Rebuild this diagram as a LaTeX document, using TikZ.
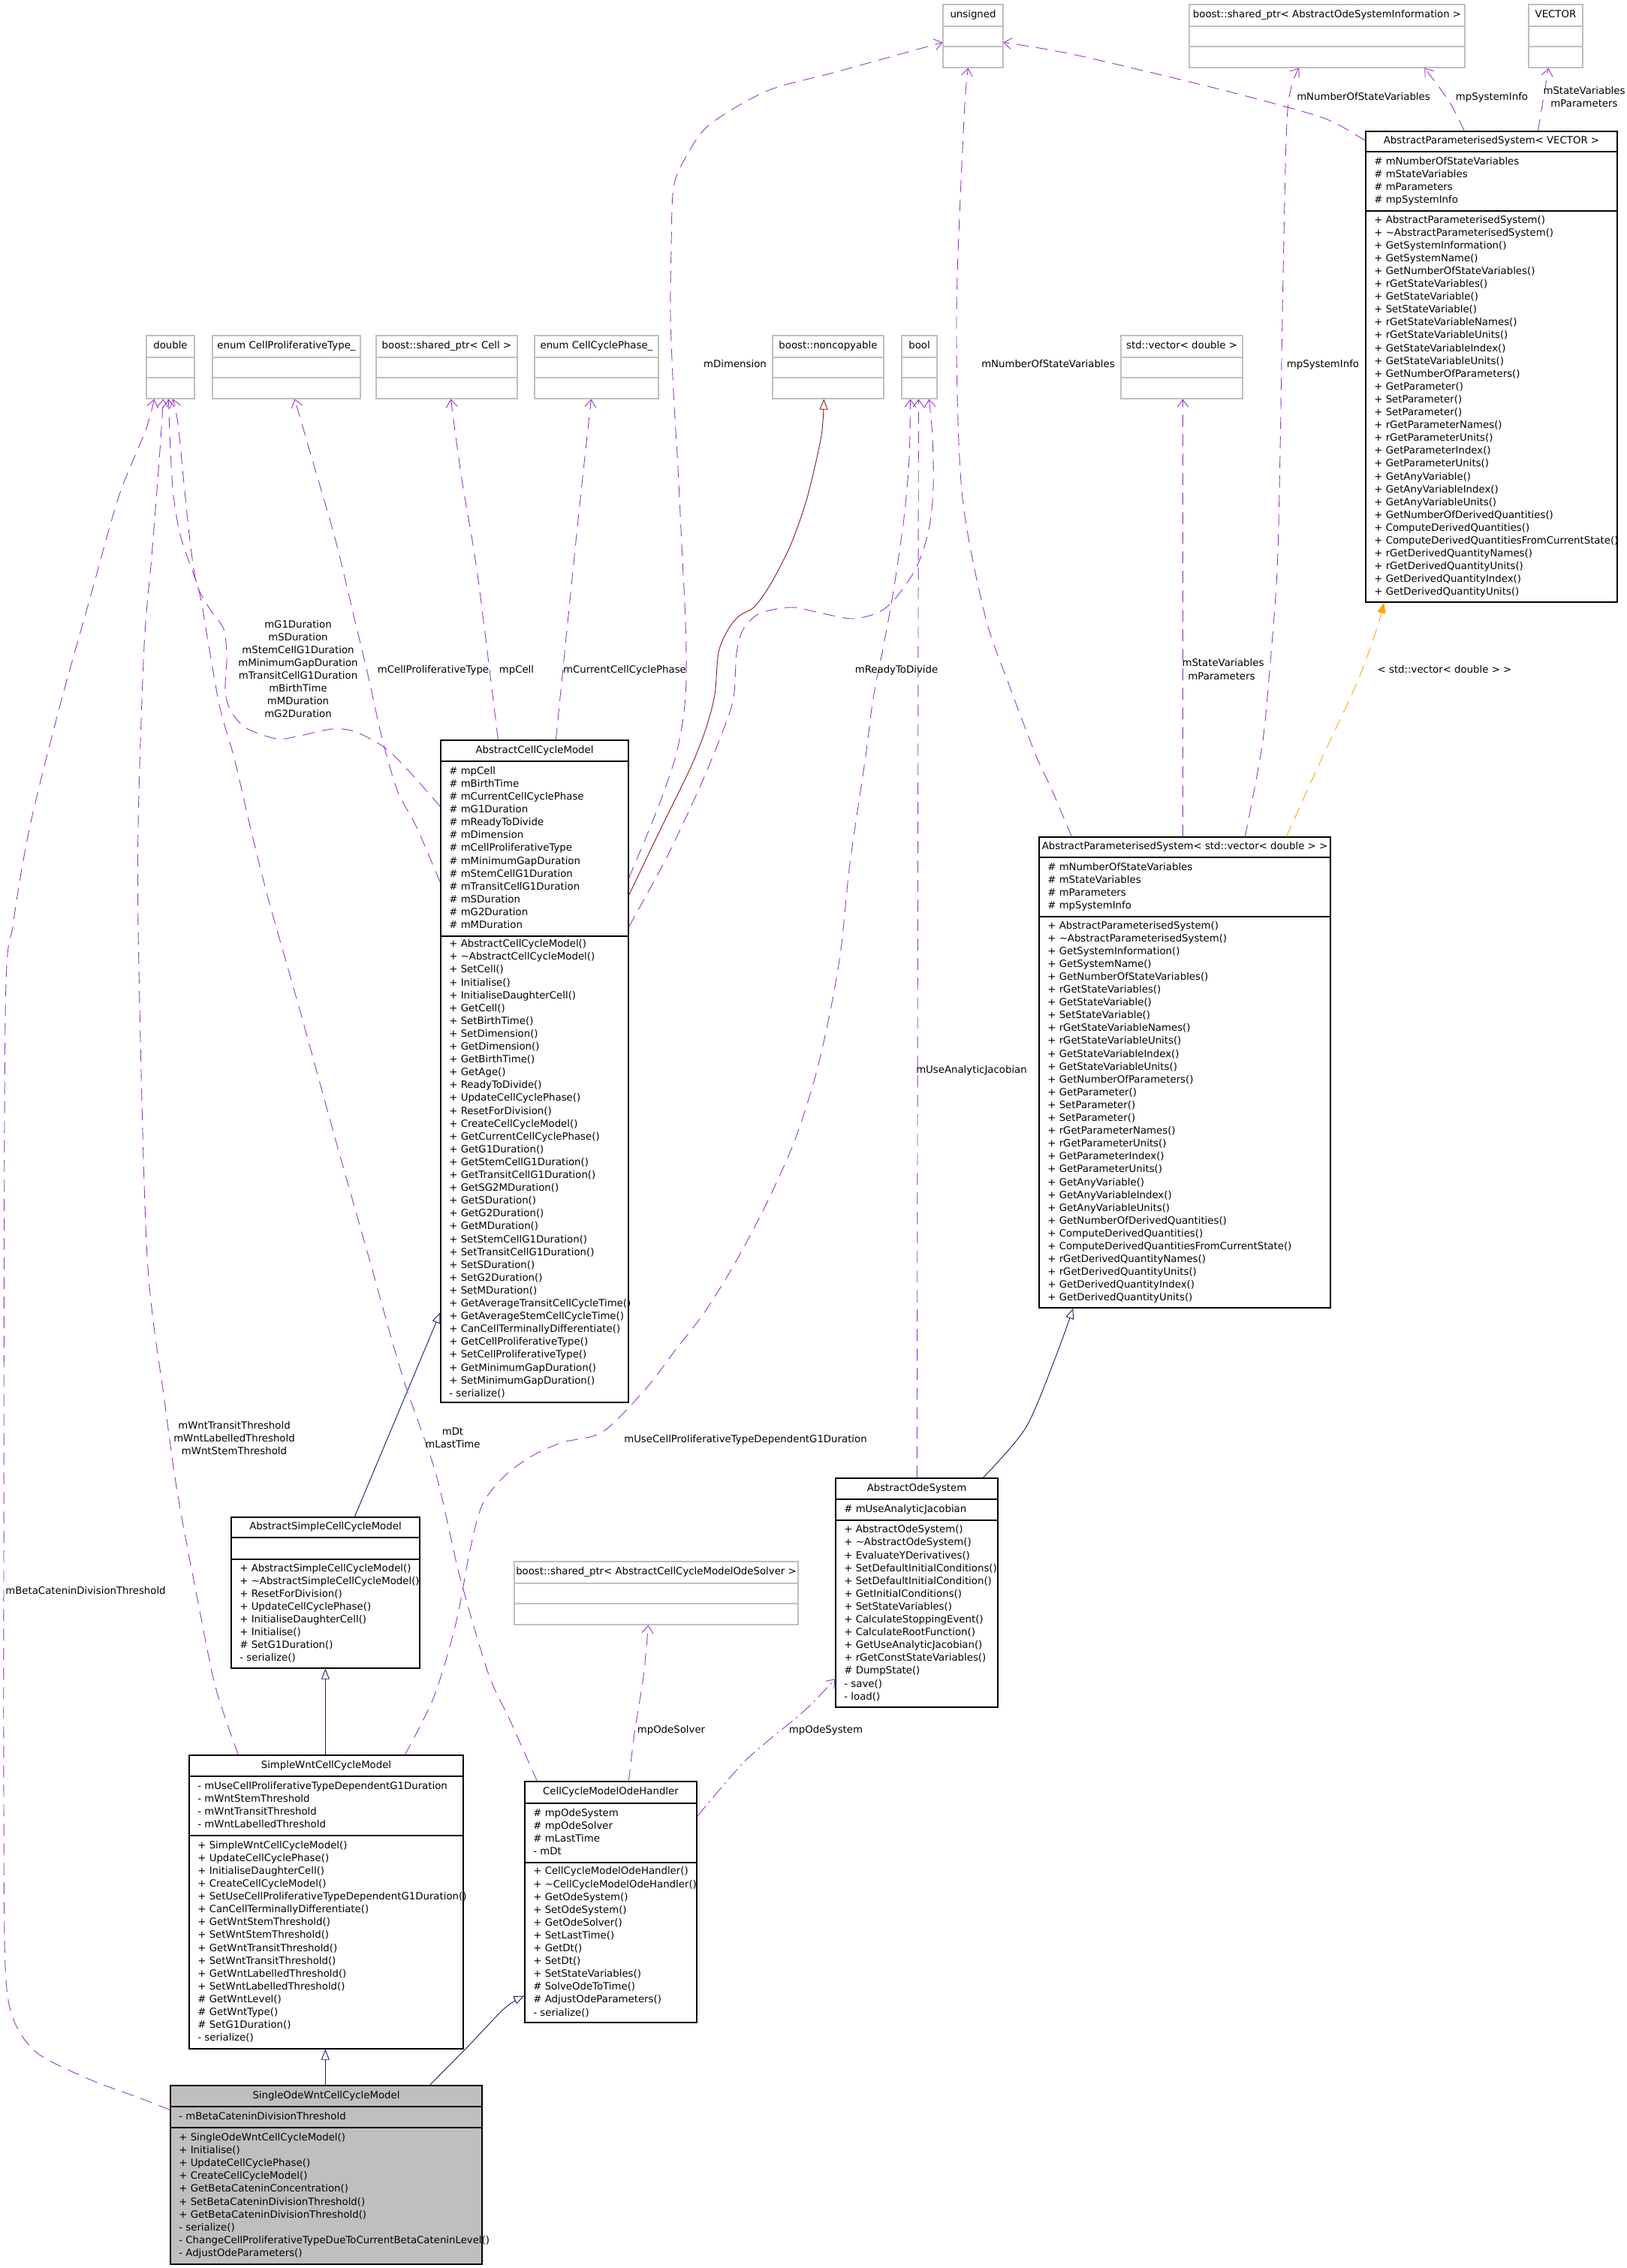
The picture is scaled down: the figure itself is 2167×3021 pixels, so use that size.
\documentclass[tikz,border=0pt]{standalone}
\usepackage{fontspec}
\setmainfont{DejaVu Sans}
\usetikzlibrary{arrows.meta,fit,calc}
\definecolor{upurple}{HTML}{9A32CD}
\definecolor{unavy}{HTML}{191970}
\definecolor{ured}{HTML}{8B1A1A}
\definecolor{uorange}{HTML}{FFA500}
\definecolor{ugray}{HTML}{BFBFBF}
\newcommand\umlfont{\fontsize{6.65pt}{8pt}\selectfont}
\tikzset{
  txt/.style={inner sep=0pt, font=\umlfont, text height=4.9pt, text depth=1.45pt},
  clsbox/.style={draw=black, line width=0.65pt, fill=white, inner sep=0pt},
  sowbox/.style={draw=black, line width=0.65pt, fill=ugray, inner sep=0pt},
  graybox/.style={draw=ugray, line width=0.6pt, fill=white, inner sep=0pt},
  gline/.style={draw=ugray, line width=0.6pt},
  cline/.style={draw=black, line width=0.65pt},
  usearrow/.style={draw=upurple, line width=0.45pt, dash pattern=on 8pt off 5pt, -{Straight Barb[length=5pt,width=7.5pt]}},
  usedd/.style={usearrow, dash pattern=on 9pt off 3pt on 1.2pt off 3pt},
  inherit/.style={draw=unavy, line width=0.45pt, -{Triangle[open,length=7pt,width=5.5pt,fill=white]}},
  inheritred/.style={inherit, draw=ured},
  tmpl/.style={draw=uorange, line width=0.45pt, dash pattern=on 8pt off 5pt, -{Triangle[length=7pt,width=5.5pt,fill=uorange]}},
}
% class box: name, x1, y1, x2, y2, sep1, sep2, title, style
\newcommand\umlclass[9]{%
  \coordinate (#1-nw) at (#2,#3);
  \coordinate (#1-se) at (#4,#5);
  \node[#9, fit=(#1-nw)(#1-se)] (#1) {};
  \draw[cline] (#2,#6) -- (#4,#6) (#2,#7) -- (#4,#7);
  \node[txt] (#1-title) at ({(#2+#4)/2},{(#3+#6)/2}) {#8};
}
% lines of text: prefix, x1, ytop, ybot, list
\newcommand\umllines[5]{%
  \foreach \myl [count=\myi] in {#5} {\xdef\mycount{\myi}}
  \foreach \myl [count=\myi] in {#5} {
    \pgfmathsetmacro\myy{(#3+#4)/2+(\myi-(\mycount+1)/2)*17.1}
    \node[txt, anchor=west] (#1-\myi) at (#2+11,\myy) {\myl};
  }
}
% gray external box: name, x1, y1, x2, title
\newcommand\gbox[5]{%
  \coordinate (#1-nw) at (#2,#3);
  \coordinate (#1-se) at (#4,#3+84);
  \node[graybox, fit=(#1-nw)(#1-se)] (#1) {};
  \draw[gline] (#2,#3+29) -- (#4,#3+29) (#2,#3+56) -- (#4,#3+56);
  \node[txt] (#1-title) at ({(#2+#4)/2},#3+14.5) {#5};
}
\begin{document}
\begin{tikzpicture}[x=0.5pt,y=-0.5pt]
\fill[white] (0,0) rectangle (2167,3021);
\useasboundingbox (0,0) rectangle (2167,3021);

% ---------- external types ----------
\gbox{unsigned}{1256}{6}{1336}{unsigned}
\gbox{aosi}{1584}{6}{1951}{boost::shared\_ptr< AbstractOdeSystemInformation >}
\gbox{vec}{2036}{6}{2108}{VECTOR}
\gbox{dbl}{195}{447}{259}{double}
\gbox{cpt}{283}{447}{480}{enum CellProliferativeType\_}
\gbox{spcell}{501}{447}{689}{boost::shared\_ptr< Cell >}
\gbox{ccp}{712}{447}{877}{enum CellCyclePhase\_}
\gbox{nonc}{1029}{447}{1177}{boost::noncopyable}
\gbox{bool}{1201}{447}{1248}{bool}
\gbox{stdvec}{1493}{447}{1655}{std::vector< double >}
\gbox{solver}{685}{2080}{1063}{boost::shared\_ptr< AbstractCellCycleModelOdeSolver >}

% ---------- AbstractParameterisedSystem< VECTOR > ----------
\umlclass{apsv}{1819}{175}{2154}{802}{202}{281}{AbstractParameterisedSystem< VECTOR >}{clsbox}
\umllines{apsv-a}{1819}{202}{281}{\# mNumberOfStateVariables, \# mStateVariables, \# mParameters, \# mpSystemInfo}
\umllines{apsv-m}{1819}{281}{802}{+ AbstractParameterisedSystem(), + \textasciitilde AbstractParameterisedSystem(), + GetSystemInformation(), + GetSystemName(), + GetNumberOfStateVariables(), + rGetStateVariables(), + GetStateVariable(), + SetStateVariable(), + rGetStateVariableNames(), + rGetStateVariableUnits(), + GetStateVariableIndex(), + GetStateVariableUnits(), + GetNumberOfParameters(), + GetParameter(), + SetParameter(), + SetParameter(), + rGetParameterNames(), + rGetParameterUnits(), + GetParameterIndex(), + GetParameterUnits(), + GetAnyVariable(), + GetAnyVariableIndex(), + GetAnyVariableUnits(), + GetNumberOfDerivedQuantities(), + ComputeDerivedQuantities(), + ComputeDerivedQuantitiesFromCurrentState(), + rGetDerivedQuantityNames(), + rGetDerivedQuantityUnits(), + GetDerivedQuantityIndex(), + GetDerivedQuantityUnits()}

% ---------- AbstractParameterisedSystem< std::vector< double > > ----------
\umlclass{apsd}{1384}{1115}{1772}{1742}{1142}{1221}{AbstractParameterisedSystem< std::vector< double > >}{clsbox}
\umllines{apsd-a}{1384}{1142}{1221}{\# mNumberOfStateVariables, \# mStateVariables, \# mParameters, \# mpSystemInfo}
\umllines{apsd-m}{1384}{1221}{1742}{+ AbstractParameterisedSystem(), + \textasciitilde AbstractParameterisedSystem(), + GetSystemInformation(), + GetSystemName(), + GetNumberOfStateVariables(), + rGetStateVariables(), + GetStateVariable(), + SetStateVariable(), + rGetStateVariableNames(), + rGetStateVariableUnits(), + GetStateVariableIndex(), + GetStateVariableUnits(), + GetNumberOfParameters(), + GetParameter(), + SetParameter(), + SetParameter(), + rGetParameterNames(), + rGetParameterUnits(), + GetParameterIndex(), + GetParameterUnits(), + GetAnyVariable(), + GetAnyVariableIndex(), + GetAnyVariableUnits(), + GetNumberOfDerivedQuantities(), + ComputeDerivedQuantities(), + ComputeDerivedQuantitiesFromCurrentState(), + rGetDerivedQuantityNames(), + rGetDerivedQuantityUnits(), + GetDerivedQuantityIndex(), + GetDerivedQuantityUnits()}

% ---------- AbstractCellCycleModel ----------
\umlclass{acm}{587}{986}{837}{1868}{1014}{1247}{AbstractCellCycleModel}{clsbox}
\umllines{acm-a}{587}{1014}{1247}{\# mpCell, \# mBirthTime, \# mCurrentCellCyclePhase, \# mG1Duration, \# mReadyToDivide, \# mDimension, \# mCellProliferativeType, \# mMinimumGapDuration, \# mStemCellG1Duration, \# mTransitCellG1Duration, \# mSDuration, \# mG2Duration, \# mMDuration}
\umllines{acm-m}{587}{1247}{1868}{+ AbstractCellCycleModel(), + \textasciitilde AbstractCellCycleModel(), + SetCell(), + Initialise(), + InitialiseDaughterCell(), + GetCell(), + SetBirthTime(), + SetDimension(), + GetDimension(), + GetBirthTime(), + GetAge(), + ReadyToDivide(), + UpdateCellCyclePhase(), + ResetForDivision(), + CreateCellCycleModel(), + GetCurrentCellCyclePhase(), + GetG1Duration(), + GetStemCellG1Duration(), + GetTransitCellG1Duration(), + GetSG2MDuration(), + GetSDuration(), + GetG2Duration(), + GetMDuration(), + SetStemCellG1Duration(), + SetTransitCellG1Duration(), + SetSDuration(), + SetG2Duration(), + SetMDuration(), + GetAverageTransitCellCycleTime(), + GetAverageStemCellCycleTime(), + CanCellTerminallyDifferentiate(), + GetCellProliferativeType(), + SetCellProliferativeType(), + GetMinimumGapDuration(), + SetMinimumGapDuration(), - serialize()}

% ---------- AbstractSimpleCellCycleModel ----------
\umlclass{ascc}{308}{2021}{559}{2222}{2048}{2077}{AbstractSimpleCellCycleModel}{clsbox}
\umllines{ascc-m}{308}{2077}{2222}{+ AbstractSimpleCellCycleModel(), + \textasciitilde AbstractSimpleCellCycleModel(), + ResetForDivision(), + UpdateCellCyclePhase(), + InitialiseDaughterCell(), + Initialise(), \# SetG1Duration(), - serialize()}

% ---------- SimpleWntCellCycleModel ----------
\umlclass{swcc}{252}{2338}{617}{2729}{2366}{2445}{SimpleWntCellCycleModel}{clsbox}
\umllines{swcc-a}{252}{2366}{2445}{- mUseCellProliferativeTypeDependentG1Duration, - mWntStemThreshold, - mWntTransitThreshold, - mWntLabelledThreshold}
\umllines{swcc-m}{252}{2445}{2729}{+ SimpleWntCellCycleModel(), + UpdateCellCyclePhase(), + InitialiseDaughterCell(), + CreateCellCycleModel(), + SetUseCellProliferativeTypeDependentG1Duration(), + CanCellTerminallyDifferentiate(), + GetWntStemThreshold(), + SetWntStemThreshold(), + GetWntTransitThreshold(), + SetWntTransitThreshold(), + GetWntLabelledThreshold(), + SetWntLabelledThreshold(), \# GetWntLevel(), \# GetWntType(), \# SetG1Duration(), - serialize()}

% ---------- SingleOdeWntCellCycleModel ----------
\umlclass{sowcc}{227}{2778}{642}{3016}{2806}{2834}{SingleOdeWntCellCycleModel}{sowbox}
\umllines{sowcc-a}{227}{2806}{2834}{- mBetaCateninDivisionThreshold}
\umllines{sowcc-m}{227}{2834}{3016}{+ SingleOdeWntCellCycleModel(), + Initialise(), + UpdateCellCyclePhase(), + CreateCellCycleModel(), + GetBetaCateninConcentration(), + SetBetaCateninDivisionThreshold(), + GetBetaCateninDivisionThreshold(), - serialize(), - ChangeCellProliferativeTypeDueToCurrentBetaCateninLevel(), - AdjustOdeParameters()}

% ---------- CellCycleModelOdeHandler ----------
\umlclass{ccmoh}{699}{2373}{928}{2694}{2402}{2481}{CellCycleModelOdeHandler}{clsbox}
\umllines{ccmoh-a}{699}{2402}{2481}{\# mpOdeSystem, \# mpOdeSolver, \# mLastTime, - mDt}
\umllines{ccmoh-m}{699}{2481}{2694}{+ CellCycleModelOdeHandler(), + \textasciitilde CellCycleModelOdeHandler(), + GetOdeSystem(), + SetOdeSystem(), + GetOdeSolver(), + SetLastTime(), + GetDt(), + SetDt(), + SetStateVariables(), \# SolveOdeToTime(), \# AdjustOdeParameters(), - serialize()}

% ---------- AbstractOdeSystem ----------
\umlclass{aos}{1113}{1969}{1329}{2274}{1997}{2025}{AbstractOdeSystem}{clsbox}
\umllines{aos-a}{1113}{1997}{2025}{\# mUseAnalyticJacobian}
\umllines{aos-m}{1113}{2025}{2274}{+ AbstractOdeSystem(), + \textasciitilde AbstractOdeSystem(), + EvaluateYDerivatives(), + SetDefaultInitialConditions(), + SetDefaultInitialCondition(), + GetInitialConditions(), + SetStateVariables(), + CalculateStoppingEvent(), + CalculateRootFunction(), + GetUseAnalyticJacobian(), + rGetConstStateVariables(), \# DumpState(), - save(), - load()}

% ---------- connector end points ----------
\coordinate (c1a) at ($(acm.north east)+(0,184)$);
\coordinate (c1b) at ($(unsigned.north west)+(0,51)$);
\coordinate (c2a) at ($(acm.north west)+(0,89)$);
\coordinate (c2b) at ($(dbl.south west)+(36,0)$);
\coordinate (c3a) at ($(acm.north west)+(0,190)$);
\coordinate (c3b) at ($(cpt.south west)+(110,0)$);
\coordinate (c4a) at ($(acm.north west)+(77,0)$);
\coordinate (c4b) at ($(spcell.south west)+(100,0)$);
\coordinate (c5a) at ($(acm.north west)+(154,0)$);
\coordinate (c5b) at ($(ccp.south west)+(76,0)$);
\coordinate (c6a) at ($(acm.north east)+(0,207)$);
\coordinate (c6b) at ($(nonc.south west)+(69,0)$);
\coordinate (c7a) at ($(acm.north east)+(0,249)$);
\coordinate (c7b) at ($(bool.south west)+(37,0)$);
\coordinate (c8a) at ($(aos.north west)+(109,0)$);
\coordinate (c8b) at ($(bool.south west)+(23,0)$);
\coordinate (c9a) at ($(swcc.north west)+(288,0)$);
\coordinate (c9b) at ($(bool.south west)+(12,0)$);
\coordinate (c10a) at ($(apsd.north west)+(44,0)$);
\coordinate (c10b) at ($(unsigned.south west)+(34,0)$);
\coordinate (c11a) at ($(apsd.north west)+(192,0)$);
\coordinate (c11b) at ($(stdvec.south west)+(83,0)$);
\coordinate (c12a) at ($(apsd.north west)+(275,0)$);
\coordinate (c12b) at ($(aosi.south west)+(147,0)$);
\coordinate (c13a) at ($(apsd.north west)+(330,0)$);
\coordinate (c13b) at ($(apsv.south west)+(25,0)$);
\coordinate (c14a) at ($(apsv.north west)+(0,13)$);
\coordinate (c14b) at ($(unsigned.north east)+(0,51)$);
\coordinate (c15a) at ($(apsv.north west)+(132,0)$);
\coordinate (c15b) at ($(aosi.south west)+(314,0)$);
\coordinate (c16a) at ($(apsv.north west)+(230,0)$);
\coordinate (c16b) at ($(vec.south west)+(27,0)$);
\coordinate (c17a) at ($(aos.north west)+(197,0)$);
\coordinate (c17b) at ($(apsd.south west)+(46,0)$);
\coordinate (c18a) at ($(ascc.north west)+(165,0)$);
\coordinate (c18b) at ($(acm.north west)+(0,763)$);
\coordinate (c19a) at ($(swcc.north west)+(182,0)$);
\coordinate (c19b) at ($(ascc.south west)+(126,0)$);
\coordinate (c20a) at ($(sowcc.north west)+(207,0)$);
\coordinate (c20b) at ($(swcc.south west)+(182,0)$);
\coordinate (c21a) at ($(sowcc.north west)+(346,0)$);
\coordinate (c21b) at ($(ccmoh.north west)+(0,286)$);
\coordinate (c22a) at ($(ccmoh.north west)+(139,0)$);
\coordinate (c22b) at ($(solver.south west)+(179,0)$);
\coordinate (c23a) at ($(ccmoh.north east)+(0,47)$);
\coordinate (c23b) at ($(aos.north west)+(0,268)$);
\coordinate (c24a) at ($(ccmoh.north west)+(17,0)$);
\coordinate (c24b) at ($(dbl.south west)+(30,0)$);
\coordinate (c25a) at ($(swcc.north west)+(66,0)$);
\coordinate (c25b) at ($(dbl.south west)+(23,0)$);
\coordinate (c26a) at ($(sowcc.north west)+(0,33)$);
\coordinate (c26b) at ($(dbl.south west)+(11,0)$);

% ---------- connectors ----------
\draw[usearrow] plot[smooth] coordinates {(c1a) (863,1109) (883,1058) (900,1007) (910,956) (914,905) (913,828) (908,726) (903,624) (897,522) (893,420) (894,330) (897,250) (913,210) (945,166) (1022,121) (1113,96) (c1b)};
\draw[usearrow] plot[smooth] coordinates {(c2a) (550,1033) (514,997) (474,975) (443,971) (395,981) (368,984) (328,970) (308,948) (300,921) (302,876) (298,838) (280,812) (262,778) (253,720) (245,644) (237,564) (c2b)};
\draw[usearrow] plot[smooth] coordinates {(c3a) (554,1100) (530,1055) (510,988) (490,899) (474,832) (447,720) (415,609) (c3b)};
\draw[usearrow] plot[smooth] coordinates {(c4a) (636,765) (615,638) (c4b)};
\draw[usearrow] plot[smooth] coordinates {(c5a) (769,702) (c5b)};
\draw[inheritred] plot[smooth] coordinates {(c6a) (880,1104) (920,1022) (940,971) (952,925) (957,869) (970,838) (985,820) (1005,808) (1027,777) (1053,726) (1073,670) (1087,614) (1095,573) (c6b)};
\draw[usearrow] plot[smooth] coordinates {(c7a) (887,1144) (930,1053) (960,981) (977,930) (981,870) (990,838) (1012,817) (1053,809) (1087,815) (1133,824) (1167,817) (1190,800) (1220,757) (1237,706) (1243,650) (1242,583) (c7b)};
\draw[usearrow] (c8a) -- (c8b);
\draw[usearrow] plot[smooth] coordinates {(c9a) (578,2260) (607,2163) (627,2060) (643,2003) (673,1965) (711,1938) (750,1921) (803,1907) (860,1850) (899,1799) (939,1747) (978,1684) (1018,1609) (1057,1523) (1085,1437) (1105,1351) (1120,1265) (1132,1150) (1153,1007) (1163,930) (1177,859) (1190,787) (1204,690) (1211,610) (c9b)};
\draw[usearrow] plot[smooth] coordinates {(c10a) (1400,1050) (1380,1007) (1345,915) (1312,820) (1281,654) (1274,418) (1284,157) (c10b)};
\draw[usearrow] (c11a) -- (c11b);
\draw[usearrow] plot[smooth] coordinates {(c12a) (1681,993) (1691,893) (1701,760) (1705,600) (1709,366) (1715,146) (c12b)};
\draw[tmpl] plot[smooth] coordinates {(c13a) (1756,1020) (1807,910) (1832,843) (c13b)};
\draw[usearrow] plot[smooth] coordinates {(c14a) (1784,167) (1747,152) (1621,118) (1432,73) (c14b)};
\draw[usearrow] plot[smooth] coordinates {(c15a) (1930,135) (c15b)};
\draw[usearrow] (c16a) -- (c16b);
\draw[inherit] plot[smooth] coordinates {(c17a) (1366,1902) (1405,1810) (c17b)};
\draw[inherit] (c18a) -- (c18b);
\draw[inherit] (c19a) -- (c19b);
\draw[inherit] (c20a) -- (c20b);
\draw[inherit] plot[smooth] coordinates {(c21a) (626,2723) (672,2675) (c21b)};
\draw[usearrow] plot[smooth] coordinates {(c22a) (845,2309) (857,2233) (c22b)};
\draw[usedd] plot[smooth] coordinates {(c23a) (994,2344) (1071,2279) (c23b)};
\draw[usearrow] plot[smooth] coordinates {(c24a) (680,2293) (650,2228) (612,2098) (580,1961) (536,1833) (491,1674) (446,1515) (402,1355) (357,1196) (333,1100) (312,1010) (293,943) (277,854) (265,787) (241,716) (231,660) (227,600) (c24b)};
\draw[usearrow] plot[smooth] coordinates {(c25a) (287,2247) (263,2130) (237,1993) (219,1865) (196,1674) (185,1291) (184,1100) (192,860) (202,742) (213,600) (c25b)};
\draw[usearrow] plot[smooth] coordinates {(c26a) (190,2796) (120,2770) (50,2735) (18,2690) (7,2620) (5,2400) (5,2100) (7,1355) (18,1228) (40,1100) (79,943) (119,800) (158,662) (194,573) (c26b)};

% ---------- connector labels ----------
\node[txt] (l-dim) at (979,486) {mDimension};
\foreach \myl [count=\myi] in {mG1Duration, mSDuration, mStemCellG1Duration, mMinimumGapDuration, mTransitCellG1Duration, mBirthTime, mMDuration, mG2Duration}
  {\node[txt] (l-dur\myi) at (397,816+17*\myi) {\myl};}
\node[txt] (l-cpt) at (577,893) {mCellProliferativeType};
\node[txt] (l-cell) at (688,893) {mpCell};
\node[txt] (l-ccp) at (832,893) {mCurrentCellCyclePhase};
\node[txt] (l-rtd) at (1194,893) {mReadyToDivide};
\node[txt] (l-nsv1) at (1396,486) {mNumberOfStateVariables};
\node[txt] (l-psi1) at (1762,486) {mpSystemInfo};
\node[txt] (l-sv1) at (1629,884) {mStateVariables};
\node[txt] (l-par1) at (1627,902) {mParameters};
\node[txt] (l-tmpl) at (1924,893) {< std::vector< double > >};
\node[txt] (l-nsv2) at (1816,130) {mNumberOfStateVariables};
\node[txt] (l-psi2) at (1987,130) {mpSystemInfo};
\node[txt] (l-sv2) at (2110,122) {mStateVariables};
\node[txt] (l-par2) at (2110,139) {mParameters};
\node[txt] (l-uaj) at (1294,1426) {mUseAnalyticJacobian};
\node[txt] (l-ucp) at (993,1918) {mUseCellProliferativeTypeDependentG1Duration};
\node[txt] (l-wnt1) at (312,1900) {mWntTransitThreshold};
\node[txt] (l-wnt2) at (312,1917) {mWntLabelledThreshold};
\node[txt] (l-wnt3) at (312,1934) {mWntStemThreshold};
\node[txt] (l-dt) at (603,1908) {mDt};
\node[txt] (l-lt) at (603,1925) {mLastTime};
\node[txt] (l-beta) at (114,2120) {mBetaCateninDivisionThreshold};
\node[txt] (l-solv) at (894,2305) {mpOdeSolver};
\node[txt] (l-sys) at (1100,2305) {mpOdeSystem};
\end{tikzpicture}
\end{document}
